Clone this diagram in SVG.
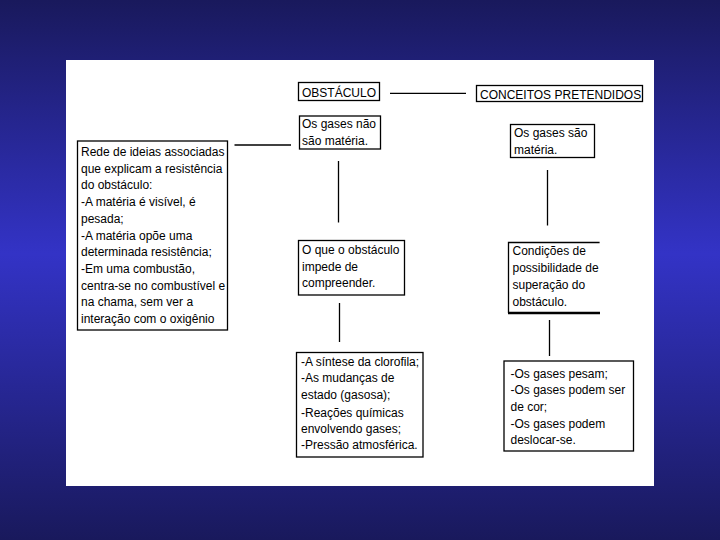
<svg xmlns="http://www.w3.org/2000/svg" width="720" height="540" viewBox="0 0 720 540">
<defs>
<linearGradient id="bg" x1="0" y1="0" x2="0" y2="1">
<stop offset="0" stop-color="#19195c"/>
<stop offset="0.47" stop-color="#3333c6"/>
<stop offset="1" stop-color="#19195c"/>
</linearGradient>
<style>
.box{fill:#fff;stroke:#000;stroke-width:1.3}
.ln{stroke:#000;stroke-width:1.3;fill:none}
text{font-family:"Liberation Sans",Arial,sans-serif;font-size:12px;fill:#000}
</style>
</defs>
<rect x="0" y="0" width="720" height="540" fill="url(#bg)"/>
<rect x="66" y="60" width="588" height="426" fill="#fff"/>
<g id="connectors">
<line class="ln" x1="390" y1="93.3" x2="466" y2="93.3"/>
<line class="ln" x1="234.5" y1="145" x2="291" y2="145"/>
<line class="ln" x1="338.5" y1="161" x2="338.5" y2="222.5"/>
<line class="ln" x1="547.5" y1="170" x2="547.5" y2="225.5"/>
<line class="ln" x1="339.5" y1="303" x2="339.5" y2="342"/>
<line class="ln" x1="549.5" y1="320" x2="549.5" y2="356"/>
</g>
<g id="obstaculo">
<rect class="box" x="298.5" y="82.5" width="81" height="18"/>
<text x="302" y="96.5">OBSTÁCULO</text>
</g>
<g id="conceitos">
<rect class="box" x="476.5" y="85.5" width="166" height="16"/>
<text x="480" y="99">CONCEITOS PRETENDIDOS</text>
</g>
<g id="nao-materia">
<rect class="box" x="299.5" y="116" width="81" height="33"/>
<text x="302" y="127.7">Os gases não</text>
<text x="302" y="145">são matéria.</text>
</g>
<g id="sao-materia">
<rect class="box" x="510.5" y="124.5" width="84" height="33"/>
<text x="514" y="136.7">Os gases são</text>
<text x="514" y="154">matéria.</text>
</g>
<g id="rede">
<rect class="box" x="77.5" y="141" width="150" height="189"/>
<text x="81" y="156">Rede de ideias associadas</text>
<text x="81" y="172.7">que explicam a resistência</text>
<text x="81" y="189.4">do obstáculo:</text>
<text x="81" y="206.1">-A matéria é visível, é</text>
<text x="81" y="222.8">pesada;</text>
<text x="81" y="239.5">-A matéria opõe uma</text>
<text x="81" y="256.2">determinada resistência;</text>
<text x="81" y="272.9">-Em uma combustão,</text>
<text x="81" y="289.6">centra-se no combustível e</text>
<text x="81" y="306.3">na chama, sem ver a</text>
<text x="81" y="323">interação com o oxigênio</text>
</g>
<g id="impede">
<rect class="box" x="298.5" y="240.5" width="106" height="54.5"/>
<text x="302" y="254">O que o obstáculo</text>
<text x="302" y="270.5">impede de</text>
<text x="302" y="287.3">compreender.</text>
</g>
<g id="condicoes">
<rect x="508.5" y="242.5" width="91" height="71" fill="#fff"/>
<path class="ln" d="M599.6 242.5 H508.5 V313"/>
<line x1="508" y1="313" x2="600" y2="313" stroke="#000" stroke-width="2.5"/>
<text x="512.5" y="255">Condições de</text>
<text x="512.5" y="271.7">possibilidade de</text>
<text x="512.5" y="289">superação do</text>
<text x="512.5" y="305.7">obstáculo.</text>
</g>
<g id="exemplos">
<rect class="box" x="296.5" y="352.5" width="126.5" height="104.5"/>
<text x="301" y="365.7">-A síntese da clorofila;</text>
<text x="301" y="382.4">-As mudanças de</text>
<text x="301" y="399.3">estado (gasosa);</text>
<text x="301" y="416.5">-Reações químicas</text>
<text x="301" y="432.9">envolvendo gases;</text>
<text x="301" y="449.4">-Pressão atmosférica.</text>
</g>
<g id="pesam">
<rect class="box" x="504" y="361" width="129.5" height="90"/>
<text x="510.5" y="377.7">-Os gases pesam;</text>
<text x="510.5" y="394.4">-Os gases podem ser</text>
<text x="510.5" y="411">de cor;</text>
<text x="510.5" y="427.7">-Os gases podem</text>
<text x="510.5" y="444.3">deslocar-se.</text>
</g>
</svg>
